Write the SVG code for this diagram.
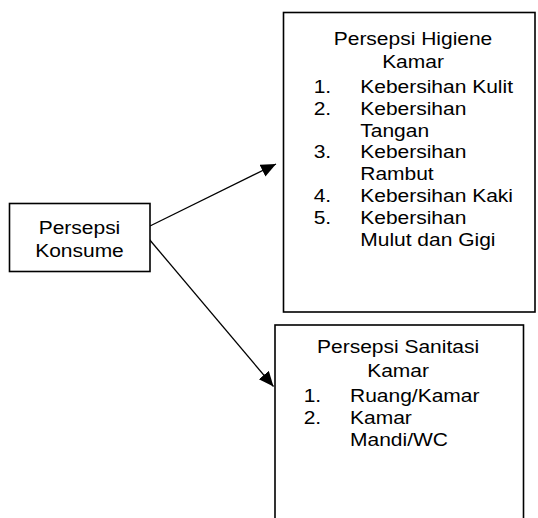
<svg xmlns="http://www.w3.org/2000/svg" width="538" height="518" viewBox="0 0 538 518">
<style>
.box{fill:#fff;stroke:#000;stroke-width:1.6}
.t{font-family:"Liberation Sans",Arial,sans-serif;font-size:18.5px;fill:#000}
.c{text-anchor:middle}
.conn{stroke:#000;stroke-width:1.3;fill:none}
</style>
<defs>
<marker id="ah" markerUnits="userSpaceOnUse" markerWidth="17" markerHeight="15" refX="15" refY="6.5" orient="auto">
<path d="M0,0 L15,6.5 L0,13 z" fill="#000"/>
</marker>
</defs>
<rect width="538" height="518" fill="#fff"/>
<g id="connectors">
<line class="conn" x1="150" y1="226" x2="276" y2="164" marker-end="url(#ah)"/>
<line class="conn" x1="149" y1="239" x2="273.5" y2="386.5" marker-end="url(#ah)"/>
</g>
<g id="konsumen">
<rect class="box" x="9.5" y="203.5" width="140.5" height="68"/>
<g transform="matrix(1.135,0,0,1,0,0)">
<text class="t c" x="70.04" y="234">Persepsi</text>
<text class="t c" x="70.04" y="257.5">Konsume</text>
</g>
</g>
<g id="higiene">
<rect class="box" x="283.5" y="12.5" width="251.5" height="299.5"/>
<g transform="matrix(1.135,0,0,1,0,0)">
<text class="t c" x="363.9" y="45">Persepsi Higiene</text>
<text class="t c" x="363.9" y="68.5">Kamar</text>
<text class="t" x="276.4" y="93">1.</text>
<text class="t" x="317.4" y="93">Kebersihan Kulit</text>
<text class="t" x="276.4" y="114.8">2.</text>
<text class="t" x="317.4" y="114.8">Kebersihan</text>
<text class="t" x="317.4" y="136.6">Tangan</text>
<text class="t" x="276.4" y="158.4">3.</text>
<text class="t" x="317.4" y="158.4">Kebersihan</text>
<text class="t" x="317.4" y="180.2">Rambut</text>
<text class="t" x="276.4" y="202">4.</text>
<text class="t" x="317.4" y="202">Kebersihan Kaki</text>
<text class="t" x="276.4" y="223.8">5.</text>
<text class="t" x="317.4" y="223.8">Kebersihan</text>
<text class="t" x="317.4" y="245.6">Mulut dan Gigi</text>
</g>
</g>
<g id="sanitasi">
<rect class="box" x="275" y="325" width="248.5" height="200"/>
<g transform="matrix(1.135,0,0,1,0,0)">
<text class="t c" x="350.7" y="353.5">Persepsi Sanitasi</text>
<text class="t c" x="350.7" y="377">Kamar</text>
<text class="t" x="267.6" y="402.5">1.</text>
<text class="t" x="308.4" y="402.5">Ruang/Kamar</text>
<text class="t" x="267.6" y="424.5">2.</text>
<text class="t" x="308.4" y="424.5">Kamar</text>
<text class="t" x="308.4" y="446.5">Mandi/WC</text>
</g>
</g>
</svg>
